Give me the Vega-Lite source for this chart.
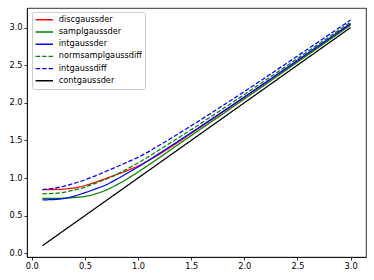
{
  "$schema": "https://vega.github.io/schema/vega-lite/v6.json",
  "width": 339,
  "height": 249,
  "autosize": {"type": "none"},
  "padding": {"left": 27, "top": 8, "right": 8, "bottom": 23},
  "background": "white",
  "config": {
    "view": {"stroke": "black", "strokeWidth": 0.8},
    "font": "DejaVu Sans",
    "axis": {
      "grid": false,
      "domainColor": "black",
      "domainWidth": 0.8,
      "tickColor": "black",
      "tickWidth": 0.8,
      "tickSize": 3,
      "labelFontSize": 8.2,
      "labelColor": "black",
      "labelPadding": 2,
      "title": null
    }
  },
  "datasets": {
    "curves": [
      {"s": "discgaussder", "x": 0.1, "y": 0.845},
      {"s": "discgaussder", "x": 0.2, "y": 0.847},
      {"s": "discgaussder", "x": 0.3, "y": 0.853},
      {"s": "discgaussder", "x": 0.4, "y": 0.868},
      {"s": "discgaussder", "x": 0.5, "y": 0.9},
      {"s": "discgaussder", "x": 0.6, "y": 0.945},
      {"s": "discgaussder", "x": 0.7, "y": 0.995},
      {"s": "discgaussder", "x": 0.8, "y": 1.047},
      {"s": "discgaussder", "x": 0.9, "y": 1.10},
      {"s": "discgaussder", "x": 1.0, "y": 1.16},
      {"s": "discgaussder", "x": 1.2, "y": 1.315},
      {"s": "discgaussder", "x": 1.5, "y": 1.594},
      {"s": "discgaussder", "x": 1.75, "y": 1.831},
      {"s": "discgaussder", "x": 2.0, "y": 2.071},
      {"s": "discgaussder", "x": 2.25, "y": 2.314},
      {"s": "discgaussder", "x": 2.5, "y": 2.557},
      {"s": "discgaussder", "x": 2.75, "y": 2.802},
      {"s": "discgaussder", "x": 3.0, "y": 3.048},
      {"s": "samplgaussder", "x": 0.1, "y": 0.73},
      {"s": "samplgaussder", "x": 0.2, "y": 0.73},
      {"s": "samplgaussder", "x": 0.3, "y": 0.732},
      {"s": "samplgaussder", "x": 0.4, "y": 0.74},
      {"s": "samplgaussder", "x": 0.5, "y": 0.755},
      {"s": "samplgaussder", "x": 0.6, "y": 0.79},
      {"s": "samplgaussder", "x": 0.7, "y": 0.84},
      {"s": "samplgaussder", "x": 0.8, "y": 0.91},
      {"s": "samplgaussder", "x": 0.9, "y": 0.99},
      {"s": "samplgaussder", "x": 1.0, "y": 1.08},
      {"s": "samplgaussder", "x": 1.2, "y": 1.27},
      {"s": "samplgaussder", "x": 1.5, "y": 1.565},
      {"s": "samplgaussder", "x": 1.75, "y": 1.806},
      {"s": "samplgaussder", "x": 2.0, "y": 2.05},
      {"s": "samplgaussder", "x": 2.25, "y": 2.294},
      {"s": "samplgaussder", "x": 2.5, "y": 2.54},
      {"s": "samplgaussder", "x": 2.75, "y": 2.786},
      {"s": "samplgaussder", "x": 3.0, "y": 3.033},
      {"s": "intgaussder", "x": 0.1, "y": 0.71},
      {"s": "intgaussder", "x": 0.2, "y": 0.713},
      {"s": "intgaussder", "x": 0.3, "y": 0.727},
      {"s": "intgaussder", "x": 0.4, "y": 0.76},
      {"s": "intgaussder", "x": 0.5, "y": 0.805},
      {"s": "intgaussder", "x": 0.6, "y": 0.855},
      {"s": "intgaussder", "x": 0.7, "y": 0.91},
      {"s": "intgaussder", "x": 0.8, "y": 0.985},
      {"s": "intgaussder", "x": 0.9, "y": 1.065},
      {"s": "intgaussder", "x": 1.0, "y": 1.147},
      {"s": "intgaussder", "x": 1.2, "y": 1.327},
      {"s": "intgaussder", "x": 1.5, "y": 1.603},
      {"s": "intgaussder", "x": 1.75, "y": 1.839},
      {"s": "intgaussder", "x": 2.0, "y": 2.078},
      {"s": "intgaussder", "x": 2.25, "y": 2.32},
      {"s": "intgaussder", "x": 2.5, "y": 2.564},
      {"s": "intgaussder", "x": 2.75, "y": 2.808},
      {"s": "intgaussder", "x": 3.0, "y": 3.053},
      {"s": "normsamplgaussdiff", "x": 0.1, "y": 0.79},
      {"s": "normsamplgaussdiff", "x": 0.2, "y": 0.795},
      {"s": "normsamplgaussdiff", "x": 0.3, "y": 0.81},
      {"s": "normsamplgaussdiff", "x": 0.4, "y": 0.84},
      {"s": "normsamplgaussdiff", "x": 0.5, "y": 0.88},
      {"s": "normsamplgaussdiff", "x": 0.6, "y": 0.93},
      {"s": "normsamplgaussdiff", "x": 0.7, "y": 0.985},
      {"s": "normsamplgaussdiff", "x": 0.8, "y": 1.048},
      {"s": "normsamplgaussdiff", "x": 0.9, "y": 1.122},
      {"s": "normsamplgaussdiff", "x": 1.0, "y": 1.2},
      {"s": "normsamplgaussdiff", "x": 1.2, "y": 1.375},
      {"s": "normsamplgaussdiff", "x": 1.5, "y": 1.643},
      {"s": "normsamplgaussdiff", "x": 1.75, "y": 1.874},
      {"s": "normsamplgaussdiff", "x": 2.0, "y": 2.11},
      {"s": "normsamplgaussdiff", "x": 2.25, "y": 2.348},
      {"s": "normsamplgaussdiff", "x": 2.5, "y": 2.588},
      {"s": "normsamplgaussdiff", "x": 2.75, "y": 2.831},
      {"s": "normsamplgaussdiff", "x": 3.0, "y": 3.074},
      {"s": "intgaussdiff", "x": 0.1, "y": 0.845},
      {"s": "intgaussdiff", "x": 0.2, "y": 0.862},
      {"s": "intgaussdiff", "x": 0.3, "y": 0.89},
      {"s": "intgaussdiff", "x": 0.4, "y": 0.93},
      {"s": "intgaussdiff", "x": 0.5, "y": 0.975},
      {"s": "intgaussdiff", "x": 0.6, "y": 1.03},
      {"s": "intgaussdiff", "x": 0.7, "y": 1.09},
      {"s": "intgaussdiff", "x": 0.8, "y": 1.15},
      {"s": "intgaussdiff", "x": 0.9, "y": 1.212},
      {"s": "intgaussdiff", "x": 1.0, "y": 1.275},
      {"s": "intgaussdiff", "x": 1.2, "y": 1.435},
      {"s": "intgaussdiff", "x": 1.5, "y": 1.694},
      {"s": "intgaussdiff", "x": 1.75, "y": 1.919},
      {"s": "intgaussdiff", "x": 2.0, "y": 2.149},
      {"s": "intgaussdiff", "x": 2.25, "y": 2.384},
      {"s": "intgaussdiff", "x": 2.5, "y": 2.621},
      {"s": "intgaussdiff", "x": 2.75, "y": 2.861},
      {"s": "intgaussdiff", "x": 3.0, "y": 3.10},
      {"s": "contgaussder", "x": 0.1, "y": 0.1},
      {"s": "contgaussder", "x": 3.0, "y": 3.0}
    ]
  },
  "data": {"name": "curves"},
  "mark": {"type": "line", "strokeWidth": 1.25, "interpolate": "monotone"},
  "encoding": {
    "x": {
      "field": "x", "type": "quantitative",
      "scale": {"domain": [-0.045, 3.145], "nice": false, "zero": false},
      "axis": {"values": [0, 0.5, 1, 1.5, 2, 2.5, 3], "format": ".1f"}
    },
    "y": {
      "field": "y", "type": "quantitative",
      "scale": {"domain": [-0.05, 3.26], "nice": false, "zero": false},
      "axis": {"values": [0, 0.5, 1, 1.5, 2, 2.5, 3], "format": ".1f"}
    },
    "color": {
      "field": "s", "type": "nominal",
      "scale": {
        "domain": ["discgaussder", "samplgaussder", "intgaussder", "normsamplgaussdiff", "intgaussdiff", "contgaussder"],
        "range": ["#ff0000", "#008000", "#0000ff", "#008000", "#0000ff", "#000000"]
      },
      "legend": {
        "title": null,
        "orient": "none",
        "legendX": 5,
        "legendY": 4,
        "symbolType": "stroke",
        "symbolSize": 300,
        "symbolStrokeWidth": 1.4,
        "labelFontSize": 8.2,
        "labelColor": "black",
        "labelOffset": 5,
        "clipHeight": 10,
        "rowPadding": 2.2,
        "padding": 2.8,
        "fillColor": "rgba(255,255,255,0.8)",
        "strokeColor": "#cccccc",
        "cornerRadius": 2
      }
    },
    "strokeDash": {
      "field": "s", "type": "nominal",
      "scale": {
        "domain": ["discgaussder", "samplgaussder", "intgaussder", "normsamplgaussdiff", "intgaussdiff", "contgaussder"],
        "range": [[1, 0], [1, 0], [1, 0], [4.5, 2], [4.5, 2], [1, 0]]
      },
      "legend": null
    }
  }
}
